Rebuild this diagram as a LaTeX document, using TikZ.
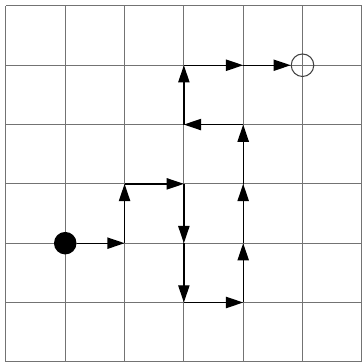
\documentclass[tikz,border=0pt]{standalone}
\usetikzlibrary{arrows.meta}
\begin{document}
\begin{tikzpicture}[x=1cm,y=1cm,
  gridline/.style={draw=black!55,line width=0.5pt},
  move/.style={draw=black,line width=0.65pt,-{Triangle[length=0.29cm,width=0.19cm]}},
  startdot/.style={circle,fill=black,minimum size=0.38cm,inner sep=0pt},
  goaldot/.style={circle,draw=black!75,line width=0.5pt,minimum size=0.38cm,inner sep=0pt}]
\useasboundingbox (-0.1,-0.02) rectangle (6.0,6.1);
\draw[gridline] (0,0) grid (6,6);
\node[startdot] (s) at (1,2) {};
\node[goaldot] (g) at (5,5) {};
\coordinate (a) at (2,2);
\coordinate (b) at (2,3);
\coordinate (c) at (3,3);
\coordinate (d) at (3,2);
\coordinate (e) at (3,1);
\coordinate (f) at (4,1);
\coordinate (h) at (4,2);
\coordinate (i) at (4,3);
\coordinate (j) at (4,4);
\coordinate (k) at (3,4);
\coordinate (l) at (3,5);
\coordinate (m) at (4,5);
\draw[move] (s) -- (a);
\draw[move] (a) -- (b);
\draw[move] (b) -- (c);
\draw[move] (c) -- (d);
\draw[move] (d) -- (e);
\draw[move] (e) -- (f);
\draw[move] (f) -- (h);
\draw[move] (h) -- (i);
\draw[move] (i) -- (j);
\draw[move] (j) -- (k);
\draw[move] (k) -- (l);
\draw[move] (l) -- (m);
\draw[move] (m) -- (g);
\end{tikzpicture}
\end{document}
